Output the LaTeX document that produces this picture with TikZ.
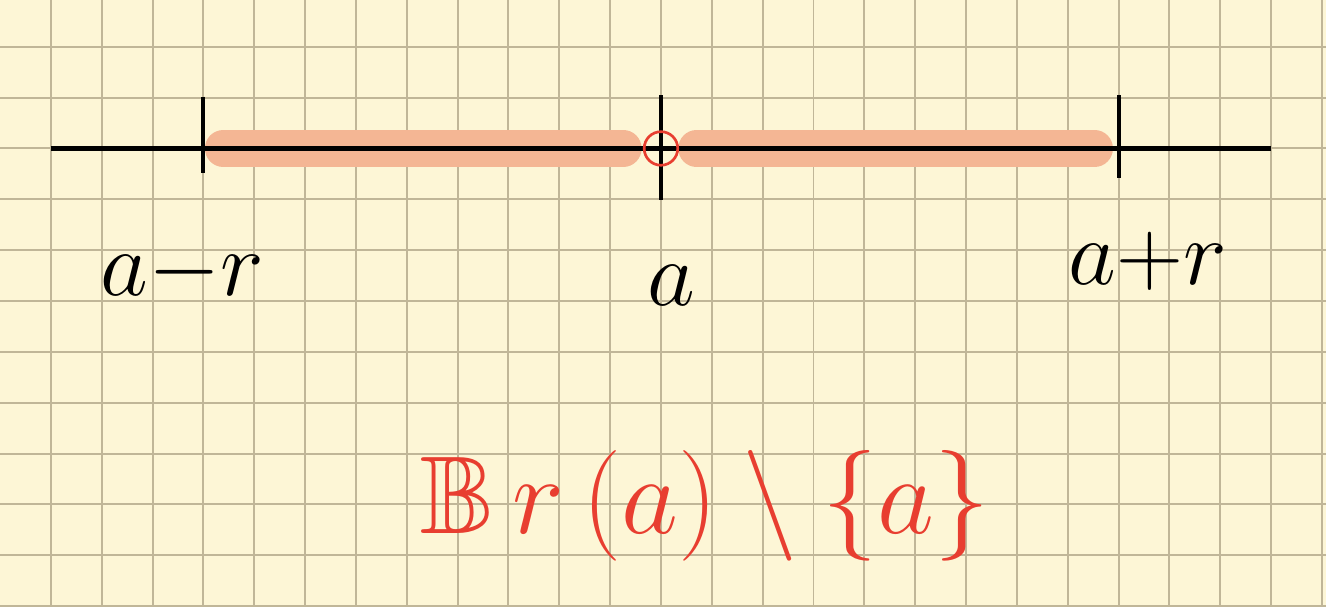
\documentclass[tikz,border=0pt]{standalone}
\usepackage{amsmath,amssymb}
\usepackage{xcolor}
\usepackage{tikz}
\definecolor{paper}{RGB}{253,246,214}
\definecolor{gridtan}{RGB}{192,182,152}
\definecolor{bandorange}{RGB}{244,182,148}
\definecolor{ballred}{RGB}{232,62,48}

\begin{document}
\begin{tikzpicture}[
  axisline/.style={line width=2.3pt,black},
  band/.style={line width=0.72cm,bandorange,line cap=round},
  lbl/.style={font=\Huge,scale=2.09},
  setlbl/.style={font=\Huge,scale=2.49,text=ballred}
]
  \fill[paper] (0,0) rectangle (26.08,11.92);
  \useasboundingbox (0,0) rectangle (26.08,11.92);
  \foreach \x in {1,...,26} \draw[gridtan,line width=1.1pt] (\x,0) -- (\x,11.92);
  \foreach \y in {0,...,11} \draw[gridtan,line width=1.1pt] (0,\y) -- (26.08,\y);
  \draw[band] (4.39,9) -- (12.26,9);
  \draw[band] (13.70,9) -- (21.53,9);
  \draw[axisline] (1,9) -- (25,9);
  \draw[axisline] (4,10.02) -- (4,8.52);
  \draw[axisline] (13,10.05) -- (13,7.99);
  \draw[axisline] (22,10.05) -- (22,8.42);
  \draw[ballred,line width=1.5pt] (13,9) circle (0.33);
  \node[lbl] (lower) at (3.58,6.57)  {$a{-}r$};
  \node[lbl] (centre) at (13.2,6.31) {$a$};
  \node[lbl] (upper) at (22.58,6.78) {$a{+}r$};
  \node[setlbl] (punctured) at (13.87,1.98) {$\mathbb{B}\,r\,(a)\setminus\{a\}$};
\end{tikzpicture}
\end{document}
